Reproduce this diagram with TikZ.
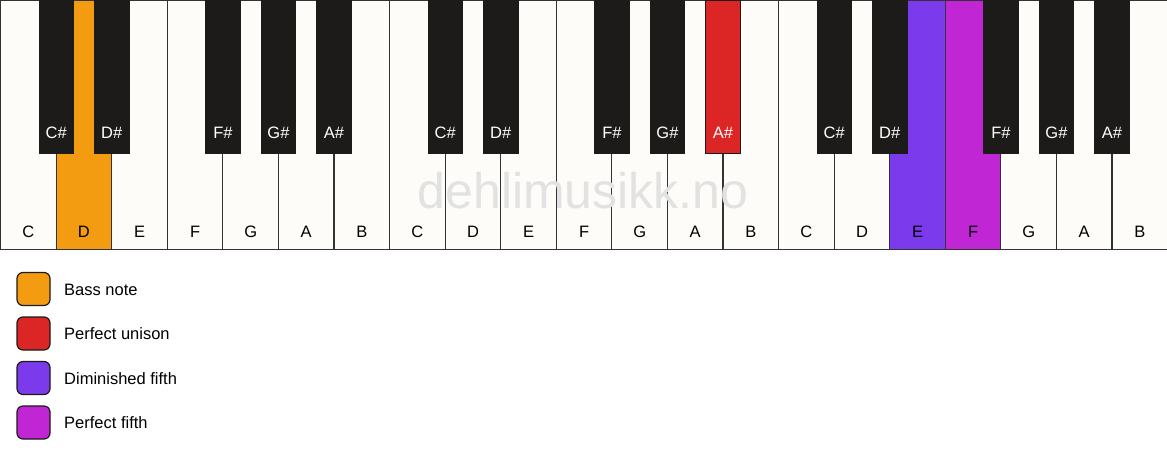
\documentclass[tikz,border=0pt]{standalone}
\usepackage{fontspec}
\setmainfont{Liberation Sans}
\definecolor{ivory}{HTML}{FDFCF9}
\definecolor{keyblack}{HTML}{1C1B19}
\definecolor{edge}{HTML}{333333}
\definecolor{bassc}{HTML}{F39C12}
\definecolor{unisonc}{HTML}{DC2626}
\definecolor{dimc}{HTML}{7C3AED}
\definecolor{perfc}{HTML}{C026D3}
\definecolor{wmark}{HTML}{E2E2E2}
\tikzset{
  whitekey/.style={draw=edge, line width=1.2pt, fill=ivory, rectangle, anchor=north west, minimum width=55.571pt, minimum height=249pt, inner sep=0pt, outer sep=0pt},
  blackkey/.style={draw=keyblack, line width=0.8pt, fill=keyblack, rectangle, anchor=north, minimum width=34.5pt, minimum height=153pt, inner sep=0pt, outer sep=0pt},
  wlabel/.style={anchor=base, font=\fontsize{16.5}{19}\selectfont, text=black, inner sep=0pt},
  blabel/.style={anchor=base, font=\fontsize{16.5}{19}\selectfont, text=white, inner sep=0pt},
  legbox/.style={draw=keyblack, line width=1.2pt, rounded corners=6pt, rectangle, minimum width=33pt, minimum height=33pt, inner sep=0pt},
  legtext/.style={anchor=base west, font=\fontsize{16.5}{19}\selectfont, inner sep=0pt},
}
\begin{document}
\begin{tikzpicture}[x=1pt,y=-1pt]
\useasboundingbox (0,0) rectangle (1167,461);
\fill[white] (0,0) rectangle (1167,461);
% white keys
\foreach \i/\n/\c in {0/C/ivory,1/D/bassc,2/E/ivory,3/F/ivory,4/G/ivory,5/A/ivory,6/B/ivory,
                      7/C/ivory,8/D/ivory,9/E/ivory,10/F/ivory,11/G/ivory,12/A/ivory,13/B/ivory,
                      14/C/ivory,15/D/ivory,16/E/dimc,17/F/perfc,18/G/ivory,19/A/ivory,20/B/ivory}{
  \node[whitekey, fill=\c] (w\i) at ({0.6+\i*55.571},0.6) {};
  \node[wlabel] (wl\i) at ({0.6+(\i+0.5)*55.571},237) {\n};
}
% watermark
\node[anchor=base, font=\fontsize{50}{58}\selectfont, text=wmark, inner sep=0pt] (wm) at (583,208) {dehlimusikk.no};
% black keys
\foreach \b/\n/\c/\t in {1/C\#/keyblack/white,2/D\#/keyblack/white,4/F\#/keyblack/white,5/G\#/keyblack/white,6/A\#/keyblack/white,
                         8/C\#/keyblack/white,9/D\#/keyblack/white,11/F\#/keyblack/white,12/G\#/keyblack/white,13/A\#/unisonc/white,
                         15/C\#/keyblack/white,16/D\#/keyblack/white,18/F\#/keyblack/white,19/G\#/keyblack/white,20/A\#/keyblack/white}{
  \node[blackkey, fill=\c] (b\b) at ({0.6+\b*55.571},0) {};
  \node[blabel, text=\t] (bl\b) at ({0.6+\b*55.571},138) {\n};
}
% legend
\foreach \k/\y/\c/\txt in {1/289/bassc/Bass note,2/333.5/unisonc/Perfect unison,3/378/dimc/Diminished fifth,4/422.5/perfc/Perfect fifth}{
  \node[legbox, fill=\c] (lb\k) at (33.5,\y) {};
  \node[legtext] (lt\k) at (64,\y+6) {\txt};
}
\end{tikzpicture}
\end{document}
